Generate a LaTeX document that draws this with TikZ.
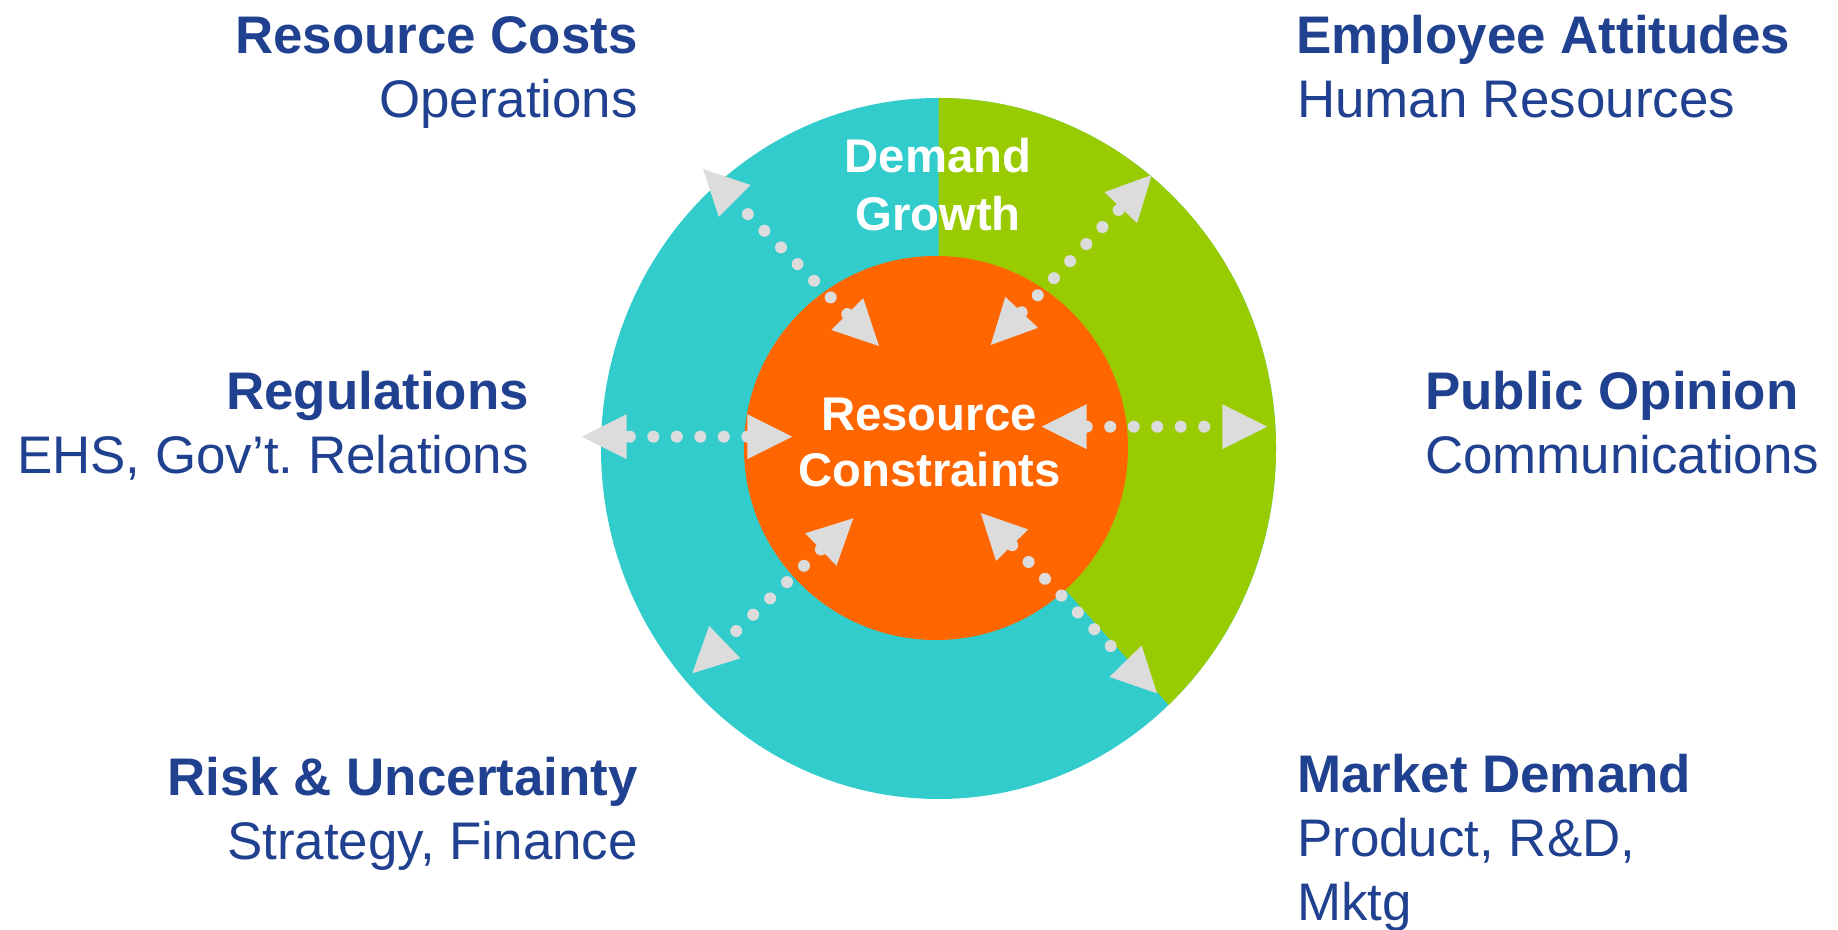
\documentclass[tikz,border=0pt]{standalone}
\usepackage{fontspec}
\setmainfont{Liberation Sans}
\usetikzlibrary{calc}
\definecolor{ringteal}{HTML}{33CCCC}
\definecolor{ringgreen}{HTML}{99CC00}
\definecolor{coreorange}{HTML}{FF6600}
\definecolor{arrowgray}{HTML}{DCDCDC}
\definecolor{labelblue}{HTML}{204090}
\tikzset{
  headtxt/.style={font=\fontsize{52.9pt}{64pt}\selectfont\bfseries, text=labelblue, inner sep=0pt},
  subtxt/.style={font=\fontsize{52.9pt}{64pt}\selectfont, text=labelblue, inner sep=0pt},
  intxt/.style={font=\fontsize{47.3pt}{56pt}\selectfont\bfseries, text=white, inner sep=0pt},
  dotfill/.style={fill=arrowgray},
}
% #1 inner tip, #2 outer tip, #3 number of dots
\newcommand\mydblarrow[3]{%
  \coordinate (#1b) at ($(#1)!45pt!(#2)$);
  \coordinate (#2b) at ($(#2)!45pt!(#1)$);
  \foreach \k in {1,...,#3}{%
    \pgfmathsetmacro\mydotdist{(\k-1)*23.5}%
    \fill[dotfill] ($(#1b)!\mydotdist pt!(#2)$) circle (6pt);}
  \fill[dotfill] (#1) -- ($(#1b)!22.5pt!90:(#1)$) -- ($(#1b)!22.5pt!-90:(#1)$) -- cycle;
  \fill[dotfill] (#2) -- ($(#2b)!22.5pt!90:(#2)$) -- ($(#2b)!22.5pt!-90:(#2)$) -- cycle;
}
\begin{document}
\begin{tikzpicture}[x=1pt,y=1pt]
\useasboundingbox (0,0) rectangle (1838,929);
\coordinate (C) at (938.5,480.5);
\fill[ringteal] (C) ellipse [x radius=337.5pt, y radius=350.5pt];
\fill[ringgreen] (C) -- ++(0,350.5) arc[start angle=90, end angle=-47, x radius=337.5pt, y radius=350.5pt] -- cycle;
\node[circle, fill=coreorange, minimum size=384pt, inner sep=0pt] (core) at (936,481) {};

\coordinate (ulI) at (879,583);
\coordinate (ulO) at (703,760);
\coordinate (urI) at (990.7,584);
\coordinate (urO) at (1151.7,754);
\coordinate (lI) at (792.3,492.3);
\coordinate (lO) at (581.7,492.3);
\coordinate (rI) at (1041.7,502.3);
\coordinate (rO) at (1267.3,502.3);
\coordinate (llI) at (853.3,410.7);
\coordinate (llO) at (692.3,255.7);
\coordinate (lrI) at (980.7,416);
\coordinate (lrO) at (1157,235.6);

\mydblarrow{ulI}{ulO}{7}
\mydblarrow{urI}{urO}{7}
\mydblarrow{lI}{lO}{6}
\mydblarrow{rI}{rO}{6}
\mydblarrow{llI}{llO}{6}
\mydblarrow{lrI}{lrO}{7}

\node[intxt, anchor=base] (dem) at (938,756) {Demand};
\node[intxt, anchor=base] (gro) at (938,698.5) {Growth};
\node[intxt, anchor=base] (res) at (929,498) {Resource};
\node[intxt, anchor=base] (con) at (929.6,442.3) {Constraints};

\node[headtxt, anchor=base east] (rc) at (638,875.7) {Resource Costs};
\node[subtxt, anchor=base east] (ops) at (638,811.7) {Operations};
\node[headtxt, anchor=base west] (ea) at (1296,875.7) {Employee Attitudes};
\node[subtxt, anchor=base west] (hr) at (1297,811.7) {Human Resources};
\node[headtxt, anchor=base east] (reg) at (529,519) {Regulations};
\node[subtxt, anchor=base east] (ehs) at (529,455) {EHS, Gov’t.\ Relations};
\node[headtxt, anchor=base west] (po) at (1425,519.7) {Public Opinion};
\node[subtxt, anchor=base west] (com) at (1425,455.7) {Communications};
\node[headtxt, anchor=base east] (risk) at (638,134) {Risk \& Uncertainty};
\node[subtxt, anchor=base east] (strat) at (638,70) {Strategy, Finance};
\node[headtxt, anchor=base west] (md) at (1297,136.3) {Market Demand};
\node[subtxt, anchor=base west] (prd) at (1297,72.3) {Product, R\&D,};
\node[subtxt, anchor=base west] (mk) at (1297,8.5) {Mktg};
\end{tikzpicture}
\end{document}
